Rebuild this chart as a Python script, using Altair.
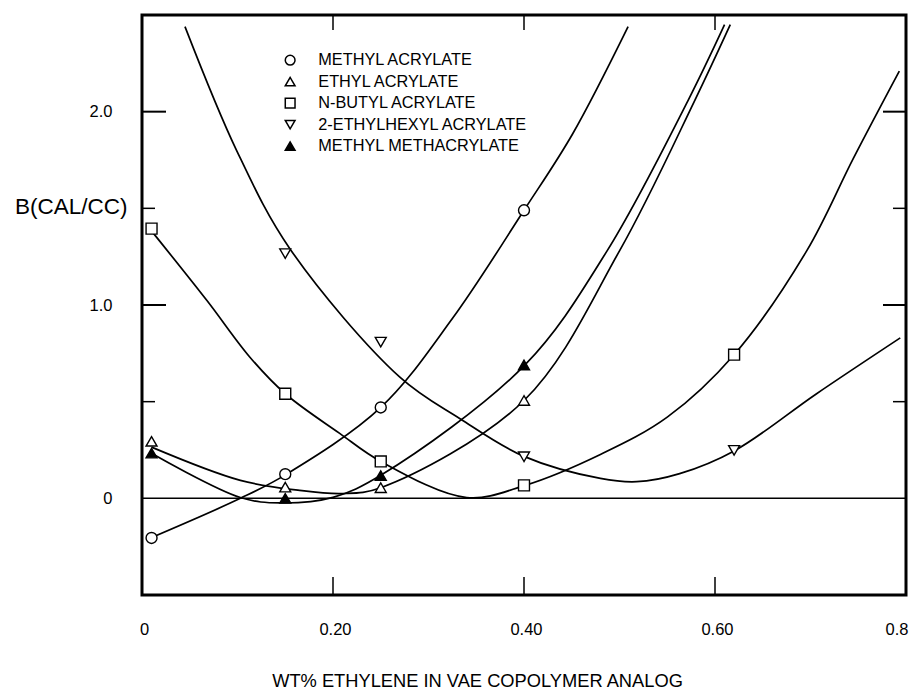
import altair as alt
import pandas as pd

SERIES = ["METHYL ACRYLATE", "ETHYL ACRYLATE", "N-BUTYL ACRYLATE",
          "2-ETHYLHEXYL ACRYLATE", "METHYL METHACRYLATE"]
SHAPES = ["circle", "triangle-up", "square", "triangle-down", "triangle-up"]
FILLS = ["white", "white", "white", "white", "black"]
STROKES = ["black"] * 5

# measured data points
ma_x = [0.01, 0.15, 0.25, 0.40]
ma_y = [-0.205, 0.125, 0.47, 1.49]
ea_x = [0.01, 0.15, 0.25, 0.40]
ea_y = [0.295, 0.058, 0.055, 0.506]
ba_x = [0.01, 0.15, 0.25, 0.40, 0.62]
ba_y = [1.395, 0.541, 0.191, 0.067, 0.743]
eh_x = [0.15, 0.25, 0.40, 0.62]
eh_y = [1.266, 0.808, 0.215, 0.248]
mm_x = [0.01, 0.15, 0.25, 0.40]
mm_y = [0.234, 0.0, 0.118, 0.69]

# fitted curves
ma_cx = [0.009, 0.103, 0.151, 0.25, 0.325, 0.40, 0.451, 0.509]
ma_cy = [-0.205, 0.0, 0.124, 0.47, 0.93, 1.49, 1.886, 2.44]
ea_cx = [0.010, 0.103, 0.165, 0.21, 0.25, 0.40, 0.50, 0.579, 0.616]
ea_cy = [0.265, 0.093, 0.041, 0.025, 0.055, 0.506, 1.28, 2.06, 2.45]
ba_cx = [0.008, 0.068, 0.113, 0.15, 0.207, 0.25, 0.34, 0.401, 0.48, 0.55, 0.62, 0.696, 0.745, 0.793]
ba_cy = [1.395, 1.023, 0.73, 0.541, 0.336, 0.191, 0.004, 0.067, 0.227, 0.42, 0.743, 1.28, 1.76, 2.21]
eh_cx = [0.045, 0.099, 0.155, 0.27, 0.333, 0.40, 0.48, 0.518, 0.563, 0.621, 0.706, 0.794]
eh_cy = [2.44, 1.80, 1.29, 0.627, 0.412, 0.217, 0.103, 0.086, 0.128, 0.248, 0.54, 0.83]
mm_cx = [0.0094, 0.103, 0.145, 0.2, 0.25, 0.401, 0.487, 0.572, 0.61]
mm_cy = [0.234, 0.004, -0.024, 0.005, 0.119, 0.69, 1.28, 2.06, 2.45]

x_tick_vals = [0.2, 0.4, 0.6]
y_major_ticks = [1.0, 2.0]
y_minor_ticks = [0.5, 1.5]
x_label_vals = [0, 0.2, 0.4, 0.6, 0.8]
y_label_vals = [0, 1.0, 2.0]

pts = []
for name, xs, ys in zip(SERIES, [ma_x, ea_x, ba_x, eh_x, mm_x], [ma_y, ea_y, ba_y, eh_y, mm_y]):
    for a, b in zip(xs, ys):
        pts.append({"series": name, "x": a, "y": b})
pts = pd.DataFrame(pts)

crv = []
for name, xs, ys in zip(SERIES, [ma_cx, ea_cx, ba_cx, eh_cx, mm_cx], [ma_cy, ea_cy, ba_cy, eh_cy, mm_cy]):
    for a, b in zip(xs, ys):
        crv.append({"series": name, "x": a, "y": b})
crv = pd.DataFrame(crv)

W, H = 764, 580
FONT = "Liberation Sans"

xscale = alt.Scale(domain=[0, 0.8], nice=False, zero=False)
yscale = alt.Scale(domain=[-0.5, 2.5], nice=False, zero=False)

XTITLE = "WT% ETHYLENE IN VAE COPOLYMER ANALOG"
YTITLE = "B(CAL/CC)"

xaxis = alt.Axis(values=x_label_vals, ticks=False, domain=False, grid=False,
                 labelExpr="datum.value == 0 ? '0' : (datum.value > 0.79 ? '0.8' : format(datum.value, '.2f'))",
                 labelFont=FONT, labelFontSize=16.5, labelColor="black", labelPadding=26,
                 labelOverlap=False, labelFlush=False, labelOffset=2,
                 labelAlign={"condition": {"test": "datum.value > 0.79", "value": "right"}, "value": "center"},
                 titleFont=FONT, titleFontSize=18.3,
                 titleFontWeight="normal", titleColor="black", titleX=335, titleY=86,
                 titleAlign="center", titleBaseline="middle", titleAnchor="start")
yaxis = alt.Axis(values=y_label_vals, ticks=False, domain=False, grid=False,
                 labelExpr="datum.value == 0 ? '0' : format(datum.value, '.1f')",
                 labelFont=FONT, labelFontSize=16.5, labelColor="black", labelPadding=30,
                 labelOverlap=False, labelFlush=False,
                 titleFont=FONT, titleFontSize=22.5, titleFontWeight="normal",
                 titleColor="black", titleAngle=0, titleX=-15, titleY=191,
                 titleAlign="right", titleBaseline="middle", titleAnchor="start")


def X(field):
    return alt.X(field, type="quantitative", scale=xscale, axis=xaxis, title=XTITLE)


def Y(field):
    return alt.Y(field, type="quantitative", scale=yscale, axis=yaxis, title=YTITLE)


legend = alt.Legend(orient="none", legendX=140, legendY=37, title=None,
                    labelFont=FONT, labelFontSize=16.3, labelColor="black", labelLimit=400,
                    symbolSize=95, symbolStrokeColor="black", symbolStrokeWidth=1.5,
                    symbolOpacity=1, labelOffset=20, rowPadding=4.5, padding=0)

zero_line = alt.Chart(pd.DataFrame({"v": [0]})).mark_rule(color="black", strokeWidth=1.5).encode(
    y=Y("v"))

curves = alt.Chart(crv).mark_line(color="black", strokeWidth=1.7, interpolate="catmull-rom").encode(
    x=X("x"), y=Y("y"), detail="series:N")

points = alt.Chart(pts).mark_point(filled=True, strokeWidth=1.4, opacity=1, size=120).encode(
    x=X("x"), y=Y("y"),
    shape=alt.Shape("series:N", scale=alt.Scale(domain=SERIES, range=SHAPES), legend=legend),
    fill=alt.Fill("series:N", scale=alt.Scale(domain=SERIES, range=FILLS), legend=legend),
    stroke=alt.Stroke("series:N", scale=alt.Scale(domain=SERIES, range=STROKES), legend=legend))

xt = pd.DataFrame({"v": x_tick_vals})
bottom_ticks = alt.Chart(xt).mark_rule(color="black", strokeWidth=1.5).encode(
    x=X("v"), y=alt.value(H), y2=alt.value(H - 18))
top_ticks = alt.Chart(xt).mark_rule(color="black", strokeWidth=1.5).encode(
    x=X("v"), y=alt.value(0), y2=alt.value(15))

ymaj = pd.DataFrame({"v": y_major_ticks})
ymin = pd.DataFrame({"v": y_minor_ticks})
left_major = alt.Chart(ymaj).mark_rule(color="black", strokeWidth=2).encode(
    y=Y("v"), x=alt.value(0), x2=alt.value(24))
left_minor = alt.Chart(ymin).mark_rule(color="black", strokeWidth=1.5).encode(
    y=Y("v"), x=alt.value(0), x2=alt.value(13))
right_major = alt.Chart(ymaj).mark_rule(color="black", strokeWidth=2).encode(
    y=Y("v"), x=alt.value(W), x2=alt.value(W - 23))
right_minor = alt.Chart(ymin).mark_rule(color="black", strokeWidth=1.5).encode(
    y=Y("v"), x=alt.value(W), x2=alt.value(W - 13))

chart = alt.layer(zero_line, curves, bottom_ticks, top_ticks, left_major, left_minor,
                  right_major, right_minor, points).properties(
    width=W, height=H,
    autosize=alt.AutoSizeParams(type="none"),
    padding={"left": 142, "top": 15, "right": 11, "bottom": 97},
    background="white",
).configure_view(stroke="black", strokeWidth=3)

chart.save("out.html", embed_options={"renderer": "svg", "actions": False})
